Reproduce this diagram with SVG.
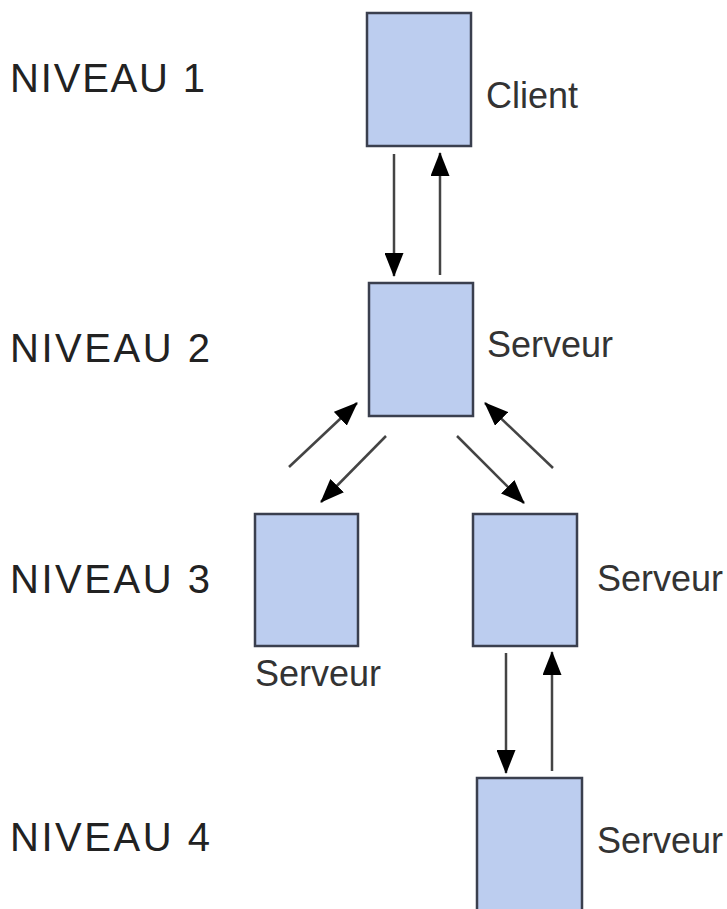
<svg xmlns="http://www.w3.org/2000/svg" width="727" height="909" viewBox="0 0 727 909">
<style>
.box{fill:#bccdef;stroke:#3a3f4e;stroke-width:2.5}
.lbl{font-family:"Liberation Sans",Arial,sans-serif;font-size:36px;fill:#333}
.niv{font-family:"Liberation Sans",Arial,sans-serif;font-size:40px;fill:#222}
.c{stroke:#444;stroke-width:2.5;fill:none;marker-end:url(#ah)}
</style>
<defs>
<marker id="ah" viewBox="0 0 24 19" refX="23" refY="9.5" markerWidth="24" markerHeight="19" markerUnits="userSpaceOnUse" orient="auto">
<path d="M0,0 L24,9.5 L0,19 z" fill="#000"/>
</marker>
</defs>
<rect width="727" height="909" fill="#fff"/>
<g id="levels">
<text class="niv" x="10" y="92" textLength="195">NIVEAU 1</text>
<text class="niv" x="10" y="362" textLength="200">NIVEAU 2</text>
<text class="niv" x="10" y="593" textLength="200">NIVEAU 3</text>
<text class="niv" x="10" y="851" textLength="200">NIVEAU 4</text>
</g>
<g id="client"><rect class="box" x="367" y="13" width="104" height="133"/><text class="lbl" x="486" y="108">Client</text></g>
<g id="serveur2"><rect class="box" x="369" y="283" width="104" height="133"/><text class="lbl" x="487" y="357">Serveur</text></g>
<g id="serveur3a"><rect class="box" x="255" y="514" width="103" height="132"/><text class="lbl" x="255" y="686">Serveur</text></g>
<g id="serveur3b"><rect class="box" x="473" y="514" width="104" height="132"/><text class="lbl" x="597" y="591">Serveur</text></g>
<g id="serveur4"><rect class="box" x="477" y="778" width="105" height="140"/><text class="lbl" x="597" y="853">Serveur</text></g>
<g id="connectors">
<line class="c" x1="394" y1="154" x2="394" y2="276"/>
<line class="c" x1="440" y1="275" x2="440" y2="153"/>
<line class="c" x1="289" y1="467" x2="357" y2="403"/>
<line class="c" x1="386" y1="436" x2="321" y2="502"/>
<line class="c" x1="457" y1="436" x2="524" y2="503"/>
<line class="c" x1="553" y1="468" x2="485" y2="403"/>
<line class="c" x1="506" y1="653" x2="506" y2="773"/>
<line class="c" x1="552" y1="771" x2="552" y2="652"/>
</g>
</svg>
